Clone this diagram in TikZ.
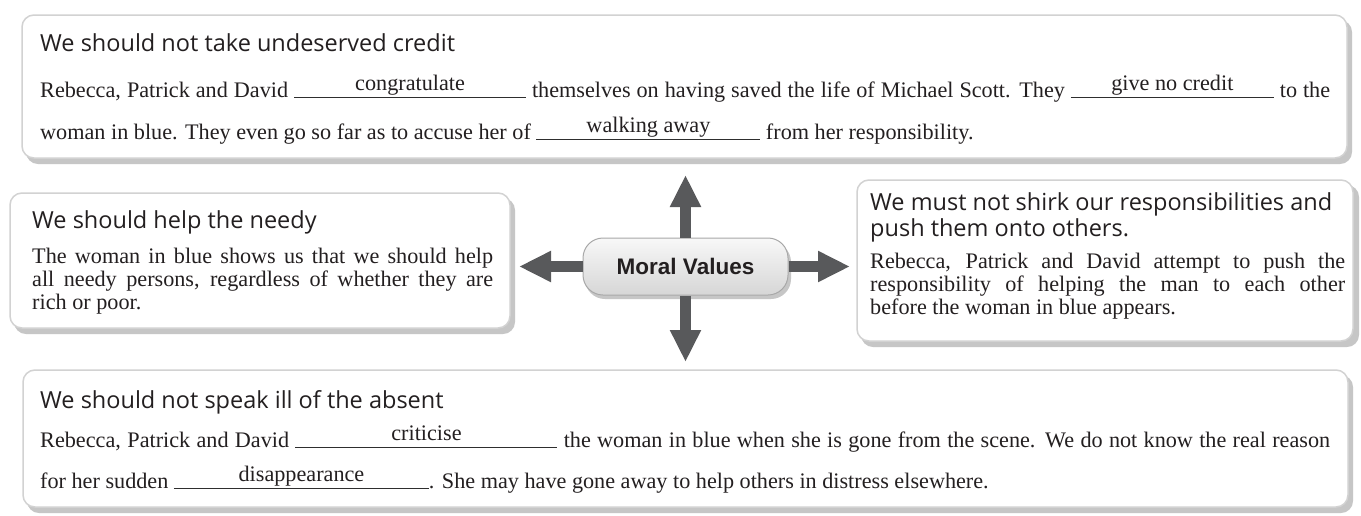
\documentclass[tikz,border=0pt]{standalone}
\usepackage{fontspec}
\setmainfont{Liberation Serif}
\newfontfamily\titlefont{Open Sans}
\newfontfamily\mvfont{Liberation Sans}
\usetikzlibrary{arrows.meta}
\definecolor{txt}{HTML}{231F20}
\definecolor{arrowc}{HTML}{58595B}
\definecolor{boxline}{HTML}{D2D2D2}
\definecolor{boxshadow}{HTML}{C6C6C6}
\definecolor{mvline}{HTML}{A8A8A8}
\definecolor{mvtop}{HTML}{F8F8F8}
\definecolor{mvbot}{HTML}{D6D6D6}
\definecolor{rulec}{HTML}{2E2E2E}
\newcommand\gapw[2]{\rlap{\textcolor{rulec}{\rule[-1pt]{#1}{1.4pt}}}\makebox[#1][c]{\raisebox{7pt}{#2}}}
\tikzset{
  panel/.style={fill=white, draw=boxline, line width=1.5pt, rounded corners=12pt},
  panelshadow/.style={fill=boxshadow, rounded corners=12pt},
  ttl/.style={anchor=base west, inner sep=0pt, font=\titlefont\fontsize{23.5}{28}\selectfont, text=txt},
  body/.style={anchor=base west, inner sep=0pt, font=\fontsize{22.2}{26}\selectfont, text=txt},
  arr/.style={draw=arrowc, line width=11.5pt, -{Triangle[length=32pt,width=29pt]}},
  mvbox/.style={draw=mvline, line width=1pt, rounded corners=20pt, top color=mvtop, bottom color=mvbot,
    minimum width=205pt, minimum height=57pt, inner sep=0pt,
    font=\mvfont\bfseries\fontsize{22.5}{26}\selectfont, text=txt}
}
\begin{document}
\begin{tikzpicture}[x=1pt,y=-1pt]
\useasboundingbox[fill=white] (0,0) rectangle (1361,515);

% panels
\fill[panelshadow] (26,20) rectangle (1352,164);
\draw[panel] (22,15) rectangle (1347,158);
\fill[panelshadow] (14,198) rectangle (515,334);
\draw[panel] (10,193) rectangle (510,328);
\fill[panelshadow] (861,185) rectangle (1359,347);
\draw[panel] (857,180) rectangle (1353,341);
\fill[panelshadow] (27,375) rectangle (1353,513);
\draw[panel] (23,370) rectangle (1348,507);

% top panel text
\node[ttl] (t0) at (40,51) {We should not take undeserved credit};
\node[body] (t1) at (40,97) {\makebox[1290pt][s]{Rebecca, Patrick and David \gapw{232pt}{congratulate} themselves on having saved the life of Michael Scott. They \gapw{203pt}{give no credit} to the}};
\node[body] (t2) at (40,139) {woman in blue. They even go so far as to accuse her of \gapw{224pt}{walking away} from her responsibility.};

% left panel text
\node[ttl] (l0) at (32,228) {We should help the needy};
\node[body] (l1) at (32,263) {\makebox[461pt][s]{The woman in blue shows us that we should help}};
\node[body] (l2) at (32,286) {\makebox[461pt][s]{all needy persons, regardless of whether they are}};
\node[body] (l3) at (32,309) {rich or poor.};

% right panel text
\node[ttl] (r0) at (870,210) {We must not shirk our responsibilities and};
\node[ttl] (r1) at (870,236) {push them onto others.};
\node[body] (r2) at (870,268) {\makebox[475pt][s]{Rebecca, Patrick and David attempt to push the}};
\node[body] (r3) at (870,291) {\makebox[475pt][s]{responsibility of helping the man to each other}};
\node[body] (r4) at (870,314) {before the woman in blue appears.};

% bottom panel text
\node[ttl] (b0) at (40,408) {We should not speak ill of the absent};
\node[body] (b1) at (40,447) {\makebox[1290pt][s]{Rebecca, Patrick and David \gapw{262pt}{criticise} the woman in blue when she is gone from the scene. We do not know the real reason}};
\node[body] (b2) at (40,488) {for her sudden \gapw{255pt}{disappearance}. She may have gone away to help others in distress elsewhere.};

% centre node and arrows
\coordinate (tipL) at (519,266.5);
\coordinate (tipR) at (850,266.5);
\coordinate (tipU) at (685.5,175);
\coordinate (tipD) at (685.5,362);
\fill[boxshadow, rounded corners=20pt] (585,242) rectangle (791,299);
\node[mvbox] (mv) at (685.5,266.5) {Moral Values};
\draw[arr] (mv.west) -- (tipL);
\draw[arr] (mv.east) -- (tipR);
\draw[arr] (mv.north) -- (tipU);
\draw[arr] (mv.south) -- (tipD);
\end{tikzpicture}
\end{document}
